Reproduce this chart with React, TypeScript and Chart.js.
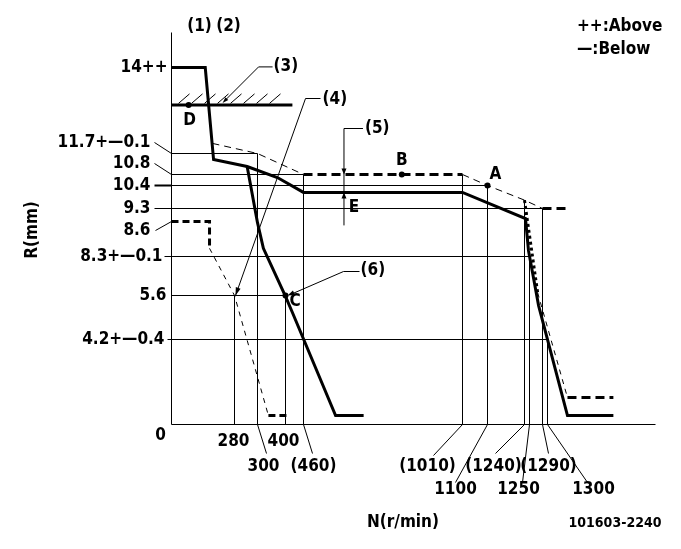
import React, { useEffect, useRef } from 'react';
import { Chart, registerables, LinearScale } from 'chart.js';

// ---------------- data (N in r/min, R in mm) ----------------
// full-load / governor curve (thick solid)
const fullN = [0, 150, 187, 291, 371, 460, 1010, 1242, 1248, 1278, 1374, 1544];
const fullR = [14.0, 14.0, 11.44, 11.14, 10.69, 10.07, 10.07, 8.76, 8.35, 5.28, 0.44, 0.44];
// idle curve (thick solid, branching)
const idleN = [291, 300, 321, 400, 423, 571, 668];
const idleR = [11.14, 8.59, 8.37, 5.57, 5.06, 0.44, 0.44];
// upper tolerance curve (dashed)
const upperThinAN = [182, 300, 460];
const upperThinAR = [11.97, 11.7, 10.8];
const upperThickN = [460, 1010];
const upperThickR = [10.8, 10.8];
const upperThinBN = [1010, 1100, 1240, 1290];
const upperThinBR = [10.8, 10.4, 9.7, 9.3];
const upperEndN = [1290, 1374];
const upperEndR = [9.3, 9.3];
// lower-right tolerance curve
const lowDotN = [1240, 1275];
const lowDotR = [9.7, 5.8];
const lowThinN = [1275, 1374];
const lowThinR = [5.8, 1.33];
const lowEndN = [1374, 1544];
const lowEndR = [1.33, 1.33];
// left (start) dashed curve
const startThickN = [0, 169, 169];
const startThickR = [8.6, 8.6, 8.37];
const startThinN = [169, 280, 339];
const startThinR = [8.37, 5.6, 0.44];
const startEndN = [339, 410];
const startEndR = [0.44, 0.44];
// stopper (3) line
const stopN = [0, 423];
const stopR = [13.0, 13.0];
// guide lines: horizontal at level, then vertical at speed
const guideLevels = [11.7, 10.8, 10.4, 9.3, 8.3, 5.6, 4.2];
const guideSpeeds = [300, 460, 1100, 1290, 1250, 400, 1300];
// extra verticals
const vertN = [280, 1010, 1240];
const vertTopR = [5.6, 10.8, 9.7];
// marked points A B C D
const pointNames = ['A', 'B', 'C', 'D'];
const pointN = [1100, 800, 400, 76];
const pointR = [10.4, 10.8, 5.6, 13.0];
// tick labels
const yTickValues = [14, 11.7, 10.8, 10.4, 9.3, 8.6, 8.3, 5.6, 4.2, 0];
const yTickLabels = ['14++', '11.7+—0.1', '10.8', '10.4', '9.3', '8.6', '8.3+—0.1', '5.6', '4.2+—0.4', '0'];
const xTickValues = [280, 400, 300, 460, 1010, 1240, 1290, 1100, 1250, 1300];
const xTickLabels = ['280', '400', '300', '(460)', '(1010)', '(1240)', '(1290)', '1100', '1250', '1300'];

// ---------------- schematic axis stops (layout) ----------------
const X_LEN = 484;
const Y_LEN = 392;
const xStopVals = [0, 280, 300, 400, 460, 1010, 1100, 1240, 1250, 1290, 1300, 1700];
const xStopPos = [0, 63, 86, 114, 132, 291, 316, 353, 358, 371, 376, 484];
const yStopVals = [0, 4.2, 5.6, 8.3, 8.6, 9.3, 10.4, 10.8, 11.7, 14, 15];
const yStopPos = [0, 85, 129, 168, 203, 216, 239, 250, 271, 357, 392];

const STOPS: Record<string, { v: number[]; f: number[] }> = {
  x: { v: xStopVals, f: xStopPos.map((p) => p / X_LEN) },
  y: { v: yStopVals, f: yStopPos.map((p) => p / Y_LEN) },
};

class PiecewiseScale extends LinearScale {
  static id = 'piecewise';
  static defaults = LinearScale.defaults;
  toFrac(value: number) {
    const s = STOPS[(this as any).id];
    const v = s.v, f = s.f;
    if (value <= v[0]) return f[0];
    for (let i = 1; i < v.length; i++) {
      if (value <= v[i]) return f[i - 1] + ((value - v[i - 1]) / (v[i] - v[i - 1])) * (f[i] - f[i - 1]);
    }
    return f[f.length - 1];
  }
  getPixelForValue(value: number) {
    return (this as any).getPixelForDecimal(this.toFrac(value));
  }
  getValueForPixel(pixel: number) {
    const d = (this as any).getDecimalForPixel(pixel);
    const s = STOPS[(this as any).id];
    const v = s.v, f = s.f;
    for (let i = 1; i < f.length; i++) {
      if (d <= f[i]) return v[i - 1] + ((d - f[i - 1]) / (f[i] - f[i - 1])) * (v[i] - v[i - 1]);
    }
    return v[v.length - 1];
  }
}

Chart.register(...registerables, PiecewiseScale as any);

const FONT = "'Liberation Sans Narrow', 'DejaVu Sans Condensed', 'Arial Narrow', 'Liberation Sans', sans-serif";

const mk = (ns: number[], rs: number[], w: number, dash: number[] = []) => ({
  data: ns.map((n, i) => ({ x: n, y: rs[i] })),
  borderColor: '#000',
  backgroundColor: '#000',
  borderWidth: w,
  borderDash: dash,
  borderCapStyle: 'butt',
  borderJoinStyle: 'miter',
  pointRadius: 0,
  fill: false,
  tension: 0,
  clip: false,
});

const annotations = {
  id: 'annotations',
  afterDatasetsDraw(chart: any) {
    const { ctx, chartArea: a } = chart;
    const xs = chart.scales.x, ys = chart.scales.y;
    const X = (v: number) => xs.getPixelForValue(v);
    const Y = (v: number) => ys.getPixelForValue(v);
    ctx.save();
    ctx.strokeStyle = '#000';
    ctx.fillStyle = '#000';
    ctx.setLineDash([]);
    const seg = (pts: number[][], w = 1) => {
      ctx.lineWidth = w;
      ctx.beginPath();
      pts.forEach(([x, y], i) => (i ? ctx.lineTo(x, y) : ctx.moveTo(x, y)));
      ctx.stroke();
    };
    const head = (x1: number, y1: number, x2: number, y2: number, len = 7, w = 2.5) => {
      const t = Math.atan2(y2 - y1, x2 - x1);
      const c = Math.cos(t), s = Math.sin(t);
      ctx.beginPath();
      ctx.moveTo(x2, y2);
      ctx.lineTo(x2 - len * c + w * s, y2 - len * s - w * c);
      ctx.lineTo(x2 - len * c - w * s, y2 - len * s + w * c);
      ctx.closePath();
      ctx.fill();
    };
    const text = (s: string, x: number, y: number, align = 'center', size = 17) => {
      ctx.font = `bold ${size}px ${FONT}`;
      ctx.textAlign = align;
      ctx.textBaseline = 'middle';
      ctx.fillText(s, x, y);
    };

    // axes
    seg([[a.left, a.top], [a.left, a.bottom], [a.right, a.bottom]]);

    // guide lines
    guideLevels.forEach((lv, i) => {
      seg([[X(0), Y(lv)], [X(guideSpeeds[i]), Y(lv)], [X(guideSpeeds[i]), Y(0)]]);
    });
    vertN.forEach((n, i) => seg([[X(n), Y(vertTopR[i])], [X(n), Y(0)]]));

    // hatching above stopper line
    const hy = Y(stopR[0]);
    for (let x = X(stopN[0]) + 7; x + 11 <= X(stopN[1]); x += 13) seg([[x, hy - 1.5], [x + 11, hy - 11]]);

    // y tick labels with leaders
    const L = a.left;
    const yLay = [
      { r: L - 4, dy: 0 },
      { r: L - 21, dy: -11, lead: [[L - 17, -11], [L, 0]] },
      { r: L - 21, dy: -11, lead: [[L - 17, -11], [L, 0]] },
      { r: L - 21, dy: 0, lead: [[L - 17, 0], [L, 0]], w: 2 },
      { r: L - 21, dy: 0, lead: [[L - 17, 0], [L, 0]] },
      { r: L - 21, dy: 9, lead: [[L - 16, 9], [L, 0]] },
      { r: L - 9, dy: 0, lead: [[L - 7, 0], [L, 0]] },
      { r: L - 5, dy: 0 },
      { r: L - 7, dy: 0, lead: [[L - 4, 0], [L, 0]] },
      { r: L - 6, dy: 11, center: true },
    ];
    yTickValues.forEach((v, i) => {
      const o: any = yLay[i];
      const y = Y(v);
      if (o.lead) seg(o.lead.map((p: number[]) => [p[0], y + p[1]]), o.w || 1);
      if (o.center) text(yTickLabels[i], L - 11, y + o.dy, 'center');
      else text(yTickLabels[i], o.r, y + o.dy, 'right');
    });

    // x tick labels with leaders
    const rowY = [442, 467, 490].map((v) => a.bottom + (v - 424.5));
    const xLay = [
      { dx: -1, row: 0 },
      { dx: -2, row: 0 },
      { dx: 6, row: 1, lead: [9, 29] },
      { dx: 10, row: 1, lead: [9, 29] },
      { dx: -35, row: 1, lead: [-29, 31] },
      { dx: -31, row: 1, lead: [-29, 29] },
      { dx: 6, row: 1, lead: [6, 29] },
      { dx: -32, row: 2, lead: [-32, 58] },
      { dx: -11, row: 2, lead: [-7, 58] },
      { dx: 46, row: 2, lead: [40, 58] },
    ];
    xTickValues.forEach((v, i) => {
      const o: any = xLay[i];
      const x = X(v);
      if (o.lead) seg([[x, a.bottom], [x + o.lead[0], a.bottom + o.lead[1]]]);
      text(xTickLabels[i], x + o.dx, rowY[o.row], 'center');
    });

    // point labels
    text('A', X(pointN[0]) + 8, Y(pointR[0]) - 11);
    text('B', X(pointN[1]), Y(pointR[1]) - 14);
    text('C', X(pointN[2]) + 4, Y(pointR[2]) + 6, 'left');
    text('D', X(pointN[3]) + 1, Y(pointR[3]) + 16);

    // (3) leader
    const t3x = X(227), t3y = Y(stopR[0]) - 2;
    seg([[t3x + 36, t3y - 36], [t3x + 2, t3y - 2]]);
    head(t3x + 36, t3y - 36, t3x, t3y, 6, 2);
    seg([[t3x + 36, t3y - 36], [t3x + 50, t3y - 36]]);
    text('(3)', t3x + 51, t3y - 36, 'left');

    // (4) leader
    const t4x = X(280) + 1, t4y = Y(5.6);
    seg([[t4x + 70, t4y - 197], [t4x, t4y]]);
    head(t4x + 70, t4y - 197, t4x, t4y, 8, 2.5);
    seg([[t4x + 70, t4y - 197], [t4x + 85, t4y - 197]]);
    text('(4)', t4x + 87, t4y - 196, 'left');

    // (5) dimension
    const x5 = X(600);
    const yTop = Y(10.8), yBot = Y(10.07);
    seg([[x5, yTop - 46], [x5, yBot + 33]]);
    seg([[x5, yTop - 46], [x5 + 19, yTop - 46]]);
    head(x5, yTop - 10, x5, yTop, 6, 2.5);
    head(x5, yBot + 10, x5, yBot, 6, 2.5);
    text('(5)', x5 + 21, yTop - 46, 'left');
    text('E', x5 + 10, yBot + 15);

    // (6) leader
    const t6x = X(400) + 2, t6y = Y(5.6);
    seg([[t6x + 56, t6y - 24], [t6x + 3, t6y - 1]]);
    head(t6x + 56, t6y - 24, t6x, t6y, 7, 2.5);
    seg([[t6x + 56, t6y - 24], [t6x + 72, t6y - 24]]);
    text('(6)', t6x + 73, t6y - 25, 'left');

    // header / legend / titles
    text('(1)', X(0) + 28, 27);
    text('(2)', X(0) + 57, 27);
    text('++:Above', 577, 27, 'left');
    text('—:Below', 577, 50, 'left');
    text('N(r/min)', 403, 523);
    text('101603-2240', 615, 523, 'center', 14);
    ctx.save();
    ctx.translate(33, 230);
    ctx.rotate(-Math.PI / 2);
    text('R(mm)', 0, 0);
    ctx.restore();

    ctx.restore();
  },
};

export default function App() {
  const ref = useRef<HTMLCanvasElement>(null);
  useEffect(() => {
    const datasets: any[] = [
      {
        data: pointN.map((n, i) => ({ x: n, y: pointR[i] })),
        showLine: false,
        pointRadius: 3,
        pointBackgroundColor: '#000',
        pointBorderColor: '#000',
        pointBorderWidth: 0,
        clip: false,
        label: pointNames.join(''),
      },
      mk(fullN, fullR, 3),
      mk(idleN, idleR, 3),
      mk(upperThinAN, upperThinAR, 1, [7, 5]),
      mk(upperThickN, upperThickR, 3, [9, 5]),
      mk(upperThinBN, upperThinBR, 1, [7, 5]),
      mk(upperEndN, upperEndR, 3, [9, 5]),
      mk(lowDotN, lowDotR, 3, [3, 3]),
      mk(lowThinN, lowThinR, 1, [5, 5]),
      mk(lowEndN, lowEndR, 3, [9, 5]),
      mk(startThickN, startThickR, 3, [7, 4]),
      mk(startThinN, startThinR, 1, [5, 5]),
      mk(startEndN, startEndR, 3, [7, 4]),
      mk(stopN, stopR, 3),
    ];
    const chart = new Chart(ref.current as HTMLCanvasElement, {
      type: 'line',
      data: { datasets },
      options: {
        animation: false,
        responsive: false,
        devicePixelRatio: 1,
        layout: { padding: { left: 171.5, top: 32.5, right: 25.5, bottom: 124.5 } },
        plugins: { legend: { display: false }, tooltip: { enabled: false }, title: { display: false } },
        scales: {
          x: { type: 'piecewise' as any, min: 0, max: 1700, display: false },
          y: { type: 'piecewise' as any, min: 0, max: 15, display: false },
        },
        events: [],
      },
      plugins: [annotations as any],
    });
    return () => chart.destroy();
  }, []);
  return (
    <canvas
      ref={ref}
      width={681}
      height={549}
      style={{ position: 'absolute', left: 0, top: 0, width: 681, height: 549, background: '#fff' }}
    />
  );
}
